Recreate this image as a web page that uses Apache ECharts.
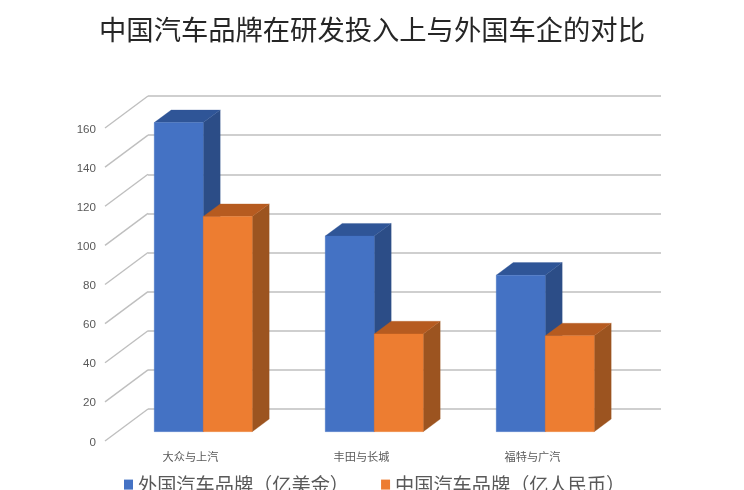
<!DOCTYPE html>
<html>
<head>
<meta charset="utf-8">
<style>html,body{margin:0;padding:0;background:#fff}#c{width:744px;height:490px}</style>
<script src="https://cdn.jsdelivr.net/npm/echarts@6/dist/echarts.min.js"></script>
</head>
<body>
<div id="c"></div>
<script>
const titleText = '中国汽车品牌在研发投入上与外国车企的对比';
const categories = ['大众与上汽', '丰田与长城', '福特与广汽'];
const foreignName = '外国汽车品牌（亿美金）';
const chinaName = '中国汽车品牌（亿人民币）';
const foreignValues = [158, 100, 80];
const chinaValues = [110, 50, 49];
const yTicks = [0, 20, 40, 60, 80, 100, 120, 140, 160];

const FONT = '"Noto Sans CJK SC","Noto Sans",sans-serif';
const wall = { dx: 43, dy: -32 };       // depth of the whole chart floor
const inset = { dx: 12.7, dy: -9.3 };   // bar front relative to the front of the floor
const depth = { dx: 17, dy: -12.6 };    // depth of each bar
const barRatio = 0.2865;

function poly(points, fill) {
  return { type: 'polygon', shape: { points }, style: { fill, stroke: fill, lineWidth: 0.3 } };
}
function barRenderer(side, front, right, top) {
  return function (params, api) {
    const band = api.size([1, 0])[0];
    const w = band * barRatio;
    const cat = api.value(0), val = api.value(1);
    const tp = api.coord([cat, val]), bt = api.coord([cat, 0]);
    const x0 = tp[0] + inset.dx + (side < 0 ? -w : 0);
    const x1 = x0 + w;
    const yT = tp[1] + inset.dy, yB = bt[1] + inset.dy;
    return {
      type: 'group',
      children: [
        poly([[x1, yT], [x1 + depth.dx, yT + depth.dy], [x1 + depth.dx, yB + depth.dy], [x1, yB]], right),
        poly([[x0, yT], [x0 + depth.dx, yT + depth.dy], [x1 + depth.dx, yT + depth.dy], [x1, yT]], top),
        poly([[x0, yT], [x1, yT], [x1, yB], [x0, yB]], front)
      ]
    };
  };
}
function pairData(vals) { return vals.map((v, i) => [i, v]); }

const chart = echarts.init(document.getElementById('c'));
chart.setOption({
  animation: false,
  backgroundColor: '#fff',
  textStyle: { fontFamily: FONT },
  title: {
    text: titleText, left: 'center', top: 11,
    textStyle: { fontFamily: FONT, fontSize: 27.3, fontWeight: 400, color: '#262626' }
  },
  legend: {
    left: 119, top: 470, itemWidth: 9, itemHeight: 10, itemGap: 32, icon: 'rect',
    selectedMode: false,
    data: [foreignName, chinaName],
    textStyle: { fontFamily: FONT, fontSize: 19.2, fontWeight: 400, color: '#595959' }
  },
  grid: [
    { left: 105, right: 126, top: 128, bottom: 49 },
    { left: 148, right: 83, top: 96, bottom: 81 },
    { left: 105, right: 126, top: 129.3, bottom: 47.7 }
  ],
  xAxis: [
    { type: 'category', data: categories, gridIndex: 0,
      axisLine: { show: false }, axisTick: { show: false },
      axisLabel: { margin: 10, fontSize: 11.2, fontFamily: FONT, color: '#595959' } },
    { type: 'category', data: categories, gridIndex: 1, show: false },
    { type: 'category', data: categories, gridIndex: 2, show: false }
  ],
  yAxis: [
    { type: 'value', gridIndex: 0, min: 0, max: 160, interval: 20, show: false },
    { type: 'value', gridIndex: 1, min: 0, max: 160, interval: 20,
      axisLine: { show: false }, axisTick: { show: false }, axisLabel: { show: false },
      splitLine: { show: true, lineStyle: { color: '#bfbfbf', width: 1.6 } } },
    { type: 'value', gridIndex: 2, min: 0, max: 160, interval: 20,
      axisLine: { show: false }, axisTick: { show: false }, splitLine: { show: false },
      axisLabel: { margin: 9, fontSize: 11.6, fontFamily: 'Liberation Sans', color: '#595959' } }
  ],
  series: [
    {
      type: 'custom', name: 'wall', xAxisIndex: 0, yAxisIndex: 0, silent: true, z: 1,
      data: yTicks.map(t => [0, t]), encode: { x: 0, y: 1 }, clip: false,
      renderItem(params, api) {
        const p = api.coord([0, api.value(1)]);
        const band = api.size([1, 0])[0];
        const x = p[0] - band / 2;
        return { type: 'line',
          shape: { x1: x, y1: p[1], x2: x + wall.dx, y2: p[1] + wall.dy },
          style: { stroke: '#bfbfbf', lineWidth: 1.4 } };
      }
    },
    {
      type: 'custom', name: foreignName, xAxisIndex: 0, yAxisIndex: 0, z: 3, clip: false,
      itemStyle: { color: '#4472C4' }, data: pairData(foreignValues), encode: { x: 0, y: 1 },
      renderItem: barRenderer(-1, '#4472C4', '#2C4D87', '#2F5597')
    },
    {
      type: 'custom', name: chinaName, xAxisIndex: 0, yAxisIndex: 0, z: 4, clip: false,
      itemStyle: { color: '#ED7D31' }, data: pairData(chinaValues), encode: { x: 0, y: 1 },
      renderItem: barRenderer(1, '#ED7D31', '#9C5420', '#B65B20')
    }
  ]
});
</script>
</body>
</html>
